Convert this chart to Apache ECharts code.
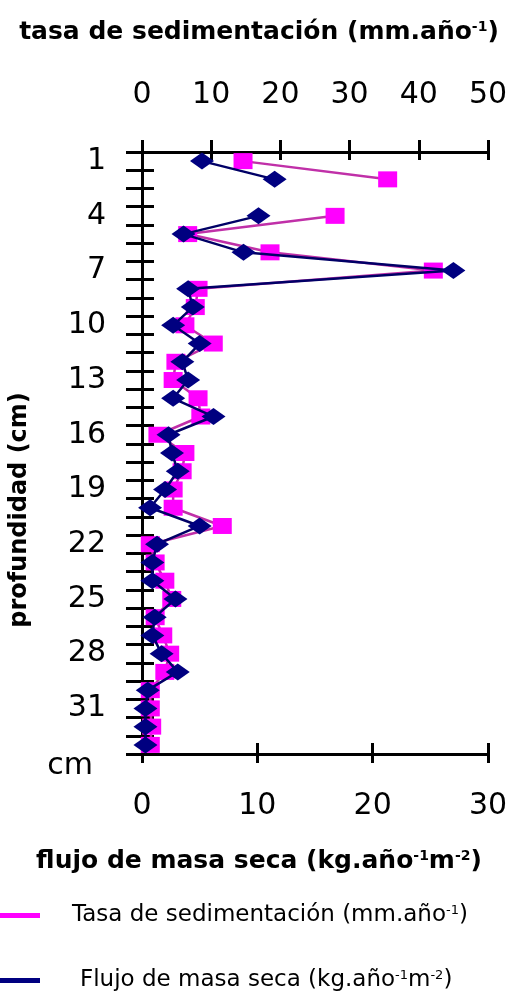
<!DOCTYPE html>
<html>
<head>
<meta charset="utf-8">
<script src="https://cdn.jsdelivr.net/npm/echarts@6/dist/echarts.min.js"></script>
<style>
html,body{margin:0;padding:0;background:#fff;}
#c{width:518px;height:999px;}
</style>
</head>
<body>
<div id="c"></div>
<script>
// depth categories (cm)
var depths = ['1','2','3','4','5','6','7','8','9','10','11','12','13','14','15','16','17','18','19','20','21','22','23','24','25','26','27','28','29','30','31','32','33'];
// tasa de sedimentación (mm.año-1), top axis
var tasa = [14.6, 35.5, null, 27.9, 6.6, 18.5, 42.1, 8.1, 7.7, 6.2, 10.3, 4.9, 4.5, 8.1, 8.5, 2.3, 6.2, 5.8, 4.5, 4.5, 11.6, 1.2, 1.9, 3.3, 4.3, 1.9, 3.0, 4.0, 3.3, 1.2, 1.2, 1.4, 1.2];
// flujo de masa seca (kg.año-1m-2), bottom axis
var flujo = [5.2, 11.5, null, 10.1, 3.6, 8.8, 27.0, 4.0, 4.4, 2.7, 5.0, 3.5, 4.0, 2.7, 6.2, 2.3, 2.6, 3.1, 2.0, 0.7, 5.0, 1.3, 0.9, 0.9, 2.9, 1.1, 0.9, 1.7, 3.1, 0.5, 0.3, 0.3, 0.3];
var topTicks = [0, 50, 10];
var bottomTicks = [0, 30, 10];

var nameTasa = 'Tasa de sedimentación (mm.año-1)';
var nameFlujo = 'Flujo de masa seca (kg.año-1m-2)';

var FONT = 'DejaVu Sans';
var lab = {fontFamily: FONT, fontSize: 30, color: '#000'};

var chart = echarts.init(document.getElementById('c'), null, {renderer: 'canvas'});
chart.setOption({
  backgroundColor: '#fff',
  animation: false,
  title: [
    {
      text: '{b|tasa de sedimentación (mm.año}{s|-1}{b|)}',
      left: 'center', top: 15,
      textStyle: {rich: {
        b: {fontFamily: FONT, fontWeight: 'bold', fontSize: 25, color: '#000'},
        s: {fontFamily: FONT, fontWeight: 'bold', fontSize: 14, color: '#000', verticalAlign: 'top'}
      }}
    },
    {
      text: '{b|flujo de masa seca (kg.año}{s|-1}{b|m}{s|-2}{b|)}',
      left: 'center', top: 844,
      textStyle: {rich: {
        b: {fontFamily: FONT, fontWeight: 'bold', fontSize: 25, color: '#000'},
        s: {fontFamily: FONT, fontWeight: 'bold', fontSize: 14, color: '#000', verticalAlign: 'top'}
      }}
    }
  ],
  legend: [
    {
      data: [nameTasa], left: 0, top: 904, padding: 0, icon: 'rect', itemWidth: 40, itemHeight: 5,
      selectedMode: false,
      formatter: function () { return '{g|}{t|Tasa de sedimentación (mm.año}{s|-1}{t|)}'; },
      textStyle: {rich: {
        g: {width: 27},
        t: {fontFamily: FONT, fontSize: 23, color: '#000'},
        s: {fontFamily: FONT, fontSize: 13, color: '#000', verticalAlign: 'top'}
      }}
    },
    {
      data: [nameFlujo], left: 0, top: 969, padding: 0, icon: 'rect', itemWidth: 40, itemHeight: 5,
      selectedMode: false,
      formatter: function () { return '{g|}{t|Flujo de masa seca (kg.año}{s|-1}{t|m}{s|-2}{t|)}'; },
      textStyle: {rich: {
        g: {width: 35},
        t: {fontFamily: FONT, fontSize: 23, color: '#000'},
        s: {fontFamily: FONT, fontSize: 13, color: '#000', verticalAlign: 'top'}
      }}
    }
  ],
  grid: {left: 141, right: 30, top: 152, bottom: 245, containLabel: false},
  xAxis: [
    {
      type: 'value', position: 'top', min: topTicks[0], max: topTicks[1], interval: topTicks[2],
      axisLine: {show: true, lineStyle: {color: '#000', width: 3}},
      axisTick: {show: true, length: 12, lineStyle: {color: '#000', width: 3}},
      axisLabel: Object.assign({margin: 42}, lab),
      splitLine: {show: false}
    },
    {
      type: 'value', position: 'bottom', min: bottomTicks[0], max: bottomTicks[1], interval: bottomTicks[2],
      axisLine: {show: true, lineStyle: {color: '#000', width: 3}},
      axisTick: {show: true, length: 9, lineStyle: {color: '#000', width: 3}},
      axisLabel: Object.assign({margin: 37}, lab),
      splitLine: {show: false}
    },
    {
      type: 'value', position: 'top', min: topTicks[0], max: topTicks[1], interval: topTicks[2],
      axisLine: {show: false},
      axisTick: {show: true, inside: true, length: 8, lineStyle: {color: '#000', width: 3}},
      axisLabel: {show: false}, splitLine: {show: false}
    },
    {
      type: 'value', position: 'bottom', min: bottomTicks[0], max: bottomTicks[1], interval: bottomTicks[2],
      axisLine: {show: false},
      axisTick: {show: true, inside: true, length: 11, lineStyle: {color: '#000', width: 3}},
      axisLabel: {show: false}, splitLine: {show: false}
    }
  ],
  yAxis: [
    {
      type: 'category', inverse: true, data: depths, boundaryGap: true, position: 'left',
      axisLine: {show: true, lineStyle: {color: '#000', width: 3}},
      axisTick: {show: true, interval: 0, length: 16, lineStyle: {color: '#000', width: 3}},
      axisLabel: Object.assign({interval: 2, margin: 36}, lab),
      splitLine: {show: false},
      name: 'profundidad (cm)', nameLocation: 'middle', nameGap: 110, nameRotate: 90,
      nameTextStyle: {fontFamily: FONT, fontWeight: 'bold', fontSize: 24, color: '#000', padding: [0, 114, 0, 0]}
    },
    {
      type: 'category', inverse: true, data: depths, boundaryGap: true, position: 'left',
      axisLine: {show: false},
      axisTick: {show: true, inside: true, interval: 0, length: 12, lineStyle: {color: '#000', width: 3}},
      axisLabel: {show: false}, splitLine: {show: false},
      name: 'cm', nameLocation: 'end', nameGap: -3,
      nameTextStyle: {fontFamily: FONT, fontSize: 30, color: '#000', align: 'right', padding: [0, 49, 0, 0]}
    }
  ],
  series: [
    {
      name: nameTasa, type: 'line', xAxisIndex: 0, yAxisIndex: 0, data: tasa,
      connectNulls: false, symbol: 'rect', symbolSize: [19, 16], showAllSymbol: true,
      itemStyle: {color: '#FF00FF'},
      lineStyle: {color: '#C030A8', width: 2.5},
      z: 2
    },
    {
      name: nameFlujo, type: 'line', xAxisIndex: 1, yAxisIndex: 0, data: flujo,
      connectNulls: false, symbol: 'diamond', symbolSize: [24, 17], showAllSymbol: true,
      itemStyle: {color: '#000080'},
      lineStyle: {color: '#000066', width: 2.5},
      z: 3
    }
  ]
});
</script>
</body>
</html>
